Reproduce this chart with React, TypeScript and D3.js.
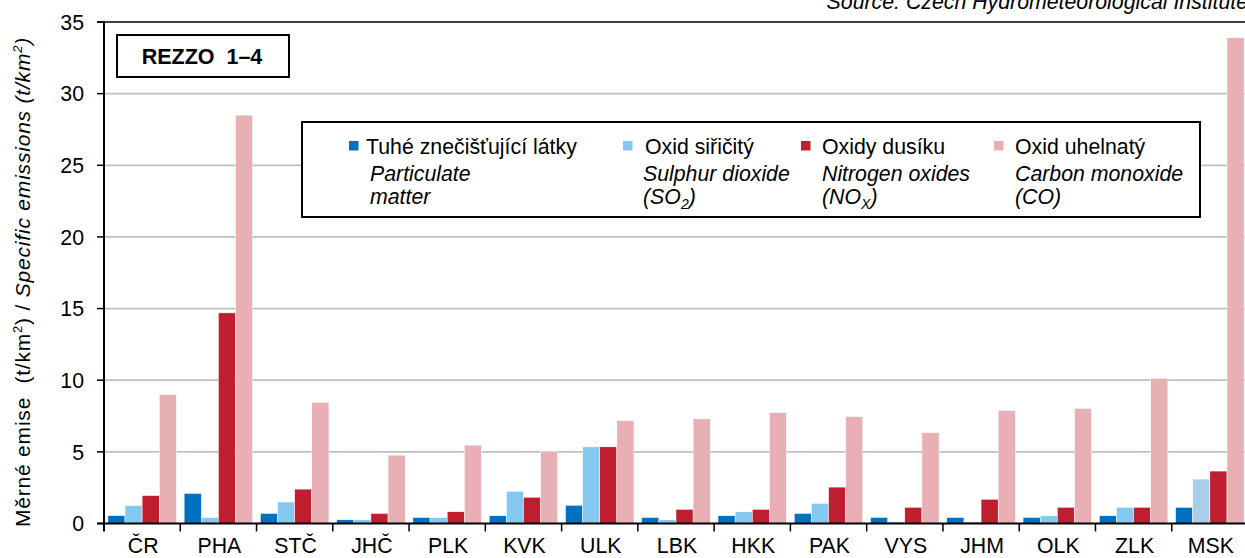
import React from 'react';
import * as d3 from 'd3';

const categories = ['ČR', 'PHA', 'STČ', 'JHČ', 'PLK', 'KVK', 'ULK', 'LBK', 'HKK', 'PAK', 'VYS', 'JHM', 'OLK', 'ZLK', 'MSK'];
const particulate = [0.55, 2.1, 0.7, 0.26, 0.42, 0.54, 1.27, 0.42, 0.54, 0.7, 0.42, 0.42, 0.42, 0.54, 1.13];
const sulphurDioxide = [1.25, 0.42, 1.5, 0.26, 0.42, 2.25, 5.35, 0.26, 0.82, 1.41, 0.12, 0.12, 0.54, 1.13, 3.1];
const nitrogenOxides = [1.95, 14.7, 2.4, 0.7, 0.82, 1.83, 5.35, 0.99, 0.99, 2.54, 1.13, 1.69, 1.13, 1.13, 3.66];
const carbonMonoxide = [9.0, 28.5, 8.45, 4.77, 5.47, 5.05, 7.18, 7.3, 7.75, 7.46, 6.34, 7.89, 8.03, 10.14, 33.9];
const yTicks = [0, 5, 10, 15, 20, 25, 30, 35];
const seriesKeys = ['tzl', 'so2', 'nox', 'co'];
const seriesColors = ['#0070C0', '#86C9F0', '#BE1E2D', '#E8AFB4'];
const seriesValues = [particulate, sulphurDioxide, nitrogenOxides, carbonMonoxide];
const paleSo2Category = 'MSK';
const paleSo2Color = '#A9CEE7';

const FONT = '"Liberation Sans", Arial, sans-serif';

export default function App() {
  const W = 1245, H = 558;
  const left = 104, right = 1248, top = 22, bottom = 523.5;
  const x = d3.scaleBand<string>().domain(categories).range([left, right]).padding(0);
  const groupW = 68.5;
  const x1 = d3.scaleBand<string>().domain(seriesKeys).range([0, groupW]).padding(0);
  const off = (x.bandwidth() - groupW) / 2;
  const y = d3.scaleLinear().domain([0, 35]).range([bottom, top]);
  const fs = 21.3;

  const barColor = (j: number, c: string) =>
    j === 1 && c === paleSo2Category ? paleSo2Color : seriesColors[j];

  return (
    <svg width={W} height={H} style={{ position: 'absolute', left: 0, top: 0, background: '#fff' }} fontFamily={FONT}>
      {/* gridlines */}
      {yTicks.filter(t => t > 0 && t < 35).map(t => (
        <line key={'g' + t} x1={left} x2={W} y1={y(t)} y2={y(t)} stroke="#BFBFBF" strokeWidth={1.8} />
      ))}
      <line x1={left - 7} x2={W} y1={y(35)} y2={y(35)} stroke="#000" strokeWidth={1.5} />
      {/* bars */}
      {categories.map((c, i) => (
        <g key={c}>
          {seriesKeys.map((k, j) => (
            <rect key={k}
              x={(x(c) as number) + off + (x1(k) as number)}
              y={y(seriesValues[j][i])}
              width={x1.bandwidth()}
              height={y(0) - y(seriesValues[j][i])}
              fill={barColor(j, c)} stroke="#fff" strokeWidth={0.5} />
          ))}
        </g>
      ))}
      {/* axes */}
      <line x1={left} x2={left} y1={top - 1} y2={bottom + 8} stroke="#000" strokeWidth={2} />
      <line x1={left - 7} x2={W} y1={y(0)} y2={y(0)} stroke="#000" strokeWidth={2} />
      {yTicks.map(t => (
        <g key={'t' + t}>
          <line x1={left - 7} x2={left} y1={y(t)} y2={y(t)} stroke="#000" strokeWidth={1.5} />
          <text x={84} y={y(t)} dy="0.36em" textAnchor="end" fontSize={fs}>{t}</text>
        </g>
      ))}
      {categories.map((c, i) => (
        <g key={'x' + c}>
          {i > 0 && <line x1={x(c) as number} x2={x(c) as number} y1={y(0)} y2={y(0) + 8} stroke="#000" strokeWidth={1.5} />}
          <text x={(x(c) as number) + x.bandwidth() / 2 + 1} y={553} textAnchor="middle" fontSize={fs}>{c}</text>
        </g>
      ))}
      {/* y-axis title */}
      <text transform={`translate(30, 282) rotate(-90)`} textAnchor="middle" fontSize={21} letterSpacing={0.8}>
        <tspan>{'Měrné emise\u00a0 (t/km'}</tspan>
        <tspan fontSize={13} dy={-8}>2</tspan>
        <tspan dy={8}>) / </tspan>
        <tspan fontStyle="italic">Specific emissions (t/km</tspan>
        <tspan fontStyle="italic" fontSize={13} dy={-8}>2</tspan>
        <tspan fontStyle="italic" dy={8}>)</tspan>
      </text>
      {/* source */}
      <text x={1248} y={9} textAnchor="end" fontSize={fs} fontStyle="italic">Source: Czech Hydrometeorological Institute</text>
      {/* REZZO box */}
      <rect x={117} y={35} width={172} height={42} fill="#fff" stroke="#000" strokeWidth={2} />
      <text x={202} y={64} textAnchor="middle" fontSize={21.5} fontWeight="bold">{'REZZO\u00a0 1–4'}</text>
      {/* legend */}
      <rect x={302} y={122} width={898} height={95} fill="#fff" stroke="#000" strokeWidth={2} />
      {[
        { mx: 349, tx: 366, ix: 370, name: 'Tuhé znečišťující látky', l2: [<tspan key="a">Particulate</tspan>], l3: [<tspan key="b">matter</tspan>] },
        { mx: 623, tx: 645, ix: 643, name: 'Oxid siřičitý', l2: [<tspan key="a">Sulphur dioxide</tspan>], l3: [<tspan key="b">(SO</tspan>, <tspan key="c" fontSize={14} dy={5}>2</tspan>, <tspan key="d" dy={-5}>)</tspan>] },
        { mx: 801, tx: 822, ix: 822, name: 'Oxidy dusíku', l2: [<tspan key="a">Nitrogen oxides</tspan>], l3: [<tspan key="b">(NO</tspan>, <tspan key="c" fontSize={14} dy={5}>X</tspan>, <tspan key="d" dy={-5}>)</tspan>] },
        { mx: 994, tx: 1015, ix: 1015, name: 'Oxid uhelnatý', l2: [<tspan key="a">Carbon monoxide</tspan>], l3: [<tspan key="b">(CO)</tspan>] },
      ].map((e, j) => (
        <g key={'l' + j}>
          <rect x={e.mx} y={141} width={9.5} height={9.5} fill={seriesColors[j]} />
          <text x={e.tx} y={154} fontSize={fs}>{e.name}</text>
          <text x={e.ix} y={181} fontSize={fs} fontStyle="italic">{e.l2}</text>
          <text x={e.ix} y={204} fontSize={fs} fontStyle="italic">{e.l3}</text>
        </g>
      ))}
    </svg>
  );
}
